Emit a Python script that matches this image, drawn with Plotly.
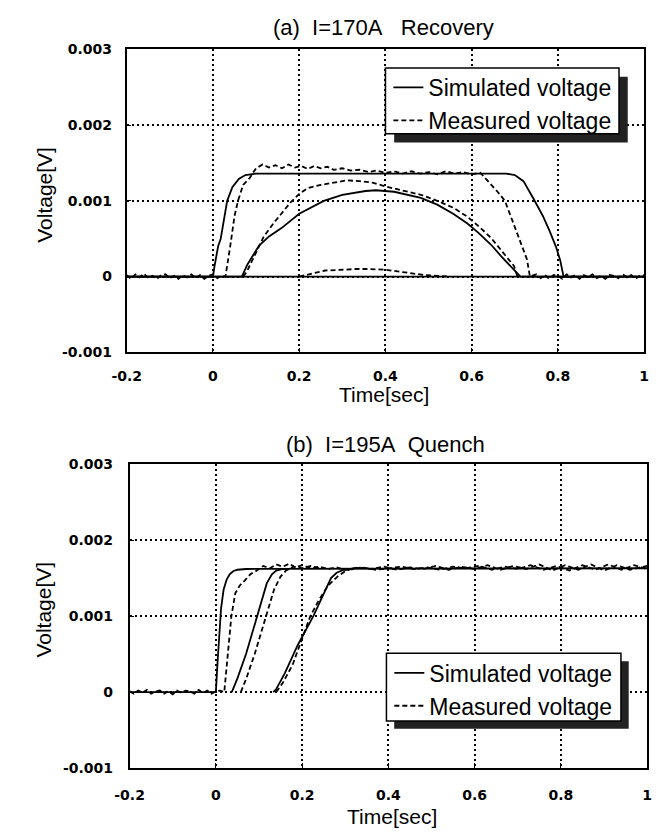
import plotly.graph_objects as go

# Page has an 8px body margin: figure is drawn 8px right/down of the viewport origin.
OX, OY = 8, 8
W, H = 648, 823

# ---------------- (a) I=170A Recovery ----------------
sim_a1_t = [-0.2, 0.0, 0.004, 0.008, 0.012, 0.018, 0.025, 0.033, 0.045, 0.06, 0.075, 0.1, 0.3, 0.5, 0.68,
            0.7, 0.72, 0.744, 0.765, 0.78, 0.795, 0.805, 0.813, 1.0]
sim_a1_v = [0, 0, 0.00015, 0.0003, 0.0004, 0.0005, 0.00075, 0.001, 0.00118, 0.00129, 0.00134, 0.00136, 0.00136,
            0.00136, 0.00136, 0.00134, 0.00126, 0.00102, 0.0008, 0.00061, 0.0004, 0.00022, 0, 0]

sim_a2_t = [-0.2, 0.067, 0.08, 0.107, 0.13, 0.159, 0.2, 0.257, 0.3, 0.354, 0.378, 0.42, 0.482, 0.52, 0.557,
            0.59, 0.617, 0.645, 0.668, 0.69, 0.713, 1.0]
sim_a2_v = [0, 0, 0.00016, 0.00041, 0.00053, 0.00064, 0.00083, 0.001, 0.00108, 0.00113, 0.00114, 0.00112,
            0.00104, 0.00095, 0.00083, 0.0007, 0.00057, 0.00042, 0.00027, 0.00014, 0, 0]

sim_a3_t = [-0.2, 1.0]
sim_a3_v = [0, 0]

meas_a1_t = [-0.2, -0.19, -0.18, -0.17, -0.16, -0.15, -0.14, -0.13, -0.12, -0.11, -0.1, -0.09, -0.08, -0.07,
             -0.06, -0.05, -0.04, -0.03, -0.02, -0.01, 0.0, 0.01, 0.02, 0.029,
             0.04, 0.05, 0.058, 0.07, 0.085, 0.1, 0.115, 0.13, 0.145, 0.16, 0.175, 0.19, 0.205, 0.22, 0.235,
             0.25, 0.265, 0.28, 0.3, 0.32, 0.34, 0.36, 0.38, 0.4, 0.42, 0.44, 0.46, 0.48, 0.5, 0.52, 0.54,
             0.56, 0.58, 0.6, 0.62, 0.638, 0.66, 0.677, 0.69, 0.706, 0.72, 0.728, 0.735,
             0.75, 0.76, 0.77, 0.78, 0.79, 0.8, 0.81, 0.82, 0.83, 0.84, 0.85, 0.86, 0.87, 0.88, 0.89, 0.9,
             0.91, 0.92, 0.93, 0.94, 0.95, 0.96, 0.97, 0.98, 0.99, 1.0]
meas_a1_v = [0.00002, -0.00003, 0.00003, -0.00001, 0.00004, -0.00002, 0.00001, -0.00003, 0.00002, 0.00003,
             -0.00002, 0.00001, -0.00003, 0.00002, -0.00001, 0.00003, -0.00002, 0.00002, -0.00003, 0.00001,
             0.00003, -0.00002, 0.00001, 0.0,
             0.0004, 0.0008, 0.001, 0.00121, 0.0013, 0.00143, 0.00148, 0.00144, 0.00147, 0.00143, 0.00148,
             0.00144, 0.00146, 0.00142, 0.00146, 0.00143, 0.00145, 0.00141, 0.00143, 0.0014, 0.00141, 0.00138,
             0.0014, 0.00137, 0.00139, 0.00136, 0.00139, 0.00136, 0.00138, 0.00135, 0.00139, 0.00136, 0.00138,
             0.00135, 0.00137, 0.00126, 0.00112, 0.001, 0.0008, 0.00057, 0.00035, 0.00023, 0.0,
             0.00003, -0.00002, 0.00002, -0.00003, 0.00002, 0.00001, -0.00003, 0.00003, -0.00001, 0.00002,
             -0.00003, 0.00002, -0.00001, 0.00003, -0.00002, 0.00001, -0.00003, 0.00002, 0.00001, -0.00002,
             0.00003, -0.00001, 0.00002, -0.00003, 0.00001, 0.00002]

meas_a2_t = [0.07, 0.078, 0.09, 0.1, 0.118, 0.14, 0.159, 0.18, 0.2, 0.22, 0.25, 0.28, 0.31, 0.34, 0.37,
             0.4, 0.44, 0.482, 0.52, 0.557, 0.59, 0.617, 0.645, 0.668, 0.685, 0.698, 0.706]
meas_a2_v = [0, 0.00006, 0.0002, 0.00032, 0.00053, 0.0007, 0.00083, 0.00098, 0.00109, 0.00117, 0.00121,
             0.00124, 0.00127, 0.00126, 0.00124, 0.00119, 0.00114, 0.00108, 0.001, 0.00091, 0.00079, 0.00066,
             0.00051, 0.00035, 0.00024, 0.00014, 0]

meas_a3_t = [0.2, 0.23, 0.26, 0.3, 0.33, 0.36, 0.4, 0.44, 0.467, 0.49, 0.52, 0.55]
meas_a3_v = [0, 0.00004, 0.00008, 0.00009, 0.0001, 0.0001, 0.00009, 0.00006, 0.00004, 0.00002, 0.00001, 0]

# ---------------- (b) I=195A Quench ----------------
sim_b1_t = [-0.2, 0.0, 0.004, 0.008, 0.012, 0.018, 0.025, 0.032, 0.04, 0.05, 0.07, 1.0]
sim_b1_v = [0, 0, 0.0004, 0.0008, 0.0011, 0.00135, 0.00148, 0.00155, 0.00159, 0.00161, 0.00162, 0.00163]

sim_b2_t = [0.037, 0.05, 0.07, 0.0955, 0.118, 0.13, 0.14, 0.155, 0.17]
sim_b2_v = [0, 0.00018, 0.0005, 0.001, 0.00143, 0.00155, 0.0016, 0.00162, 0.00162]

sim_b3_t = [0.133, 0.14, 0.16, 0.19, 0.226, 0.25, 0.267, 0.28, 0.297, 0.32]
sim_b3_v = [0, 0.00004, 0.00025, 0.00062, 0.001, 0.00128, 0.0015, 0.00157, 0.00161, 0.00162]

meas_b1_t = [-0.2, -0.19, -0.18, -0.17, -0.16, -0.15, -0.14, -0.13, -0.12, -0.11, -0.1, -0.09, -0.08, -0.07,
             -0.06, -0.05, -0.04, -0.03, -0.02, -0.01, 0.0, 0.01, 0.0195,
             0.025, 0.03, 0.036, 0.045, 0.055, 0.069, 0.08, 0.095, 0.11, 0.125, 0.14, 0.155, 0.17, 0.185,
             0.2, 0.22, 0.24, 0.26, 0.28, 0.3, 0.33, 0.36, 0.39, 0.42, 0.45, 0.48, 0.51, 0.54, 0.57, 0.6,
             0.63, 0.66, 0.69, 0.72, 0.75, 0.78, 0.81, 0.84, 0.87, 0.9, 0.93, 0.96, 1.0]
meas_b1_v = [0.00001, -0.00002, 0.00002, -0.00001, 0.00003, -0.00002, 0.00001, 0.00002, -0.00002, 0.00001,
             -0.00003, 0.00002, -0.00001, 0.00002, 0.00001, -0.00002, 0.00003, -0.00001, 0.00002, -0.00002,
             0.00001, 0.00002, 0.0,
             0.00035, 0.0007, 0.001, 0.0013, 0.0014, 0.00148, 0.00155, 0.0016, 0.00166, 0.00163, 0.00168,
             0.00165, 0.00169, 0.00164, 0.00167, 0.00163, 0.00165, 0.00162, 0.00164, 0.00161, 0.00164,
             0.00162, 0.00165, 0.00161, 0.00164, 0.00162, 0.00166, 0.00161, 0.00165, 0.00162, 0.00167,
             0.00161, 0.00166, 0.00162, 0.00168, 0.0016, 0.00167, 0.00161, 0.00168, 0.0016, 0.00167,
             0.00161, 0.00166]

meas_b2_t = [0.058, 0.07, 0.09, 0.116, 0.135, 0.15, 0.163, 0.18, 0.2, 0.22, 0.24]
meas_b2_v = [0, 0.00017, 0.0005, 0.001, 0.00135, 0.00152, 0.0016, 0.00165, 0.00163, 0.00166, 0.00163]

meas_b3_t = [0.14, 0.155, 0.178, 0.2, 0.219, 0.24, 0.26, 0.282, 0.3, 0.312, 0.34, 0.37, 0.4, 0.43, 0.46,
             0.49, 0.52, 0.55, 0.58, 0.61, 0.64, 0.67, 0.7, 0.73, 0.76, 0.79, 0.82, 0.85, 0.88, 0.91, 0.94,
             0.97, 1.0]
meas_b3_v = [0, 0.00012, 0.00036, 0.0007, 0.001, 0.00122, 0.0014, 0.00152, 0.00159, 0.00162, 0.00164,
             0.00161, 0.00163, 0.00165, 0.00162, 0.00164, 0.00161, 0.00165, 0.00163, 0.00166, 0.00161,
             0.00165, 0.00162, 0.00167, 0.00161, 0.00166, 0.0016, 0.00167, 0.00161, 0.00168, 0.00161,
             0.00167, 0.00162]

x_ticks = [-0.2, 0, 0.2, 0.4, 0.6, 0.8, 1.0]
x_tick_text = ["-0.2", "0", "0.2", "0.4", "0.6", "0.8", "1"]
y_ticks = [-0.001, 0, 0.001, 0.002, 0.003]
y_tick_text = ["-0.001", "0", "0.001", "0.002", "0.003"]

titles = ["(a)\u00a0\u00a0I=170A\u00a0\u00a0\u00a0Recovery", "(b)\u00a0\u00a0I=195A\u00a0\u00a0Quench"]
x_title = "Time[sec]"
y_title = "Voltage[V]"
leg_sim = "Simulated voltage"
leg_meas = "Measured voltage"

SOLID = dict(color="black", width=1.8)
DASH = dict(color="black", width=1.8, dash="5px,3px")

fig = go.Figure()

def add(t, v, line, xa, ya, name, show, legend):
    fig.add_trace(go.Scatter(x=t, y=v, mode="lines", line=line, xaxis=xa, yaxis=ya, name=name,
                             showlegend=show, legend=legend, hoverinfo="skip"))

# panel a
add(sim_a3_t, sim_a3_v, SOLID, "x", "y", leg_sim, False, "legend")
add(meas_a1_t, meas_a1_v, DASH, "x", "y", leg_meas, False, "legend")
add(meas_a2_t, meas_a2_v, DASH, "x", "y", leg_meas, False, "legend")
add(meas_a3_t, meas_a3_v, DASH, "x", "y", leg_meas, False, "legend")
add(sim_a1_t, sim_a1_v, SOLID, "x", "y", leg_sim, True, "legend")
add(sim_a2_t, sim_a2_v, SOLID, "x", "y", leg_sim, False, "legend")
fig.add_trace(go.Scatter(x=[None], y=[None], mode="lines", line=DASH, xaxis="x", yaxis="y",
                         name=leg_meas, showlegend=True, legend="legend"))
# panel b
add(meas_b1_t, meas_b1_v, DASH, "x2", "y2", leg_meas, False, "legend2")
add(meas_b2_t, meas_b2_v, DASH, "x2", "y2", leg_meas, False, "legend2")
add(meas_b3_t, meas_b3_v, DASH, "x2", "y2", leg_meas, False, "legend2")
add(sim_b1_t, sim_b1_v, SOLID, "x2", "y2", leg_sim, True, "legend2")
add(sim_b2_t, sim_b2_v, SOLID, "x2", "y2", leg_sim, False, "legend2")
add(sim_b3_t, sim_b3_v, SOLID, "x2", "y2", leg_sim, False, "legend2")
fig.add_trace(go.Scatter(x=[None], y=[None], mode="lines", line=DASH, xaxis="x2", yaxis="y2",
                         name=leg_meas, showlegend=True, legend="legend2"))

def px(x):
    return (x - OX) / W

def py(y):
    return 1 - (y - OY) / H

tick_font = dict(family="DejaVu Sans", size=14, color="black", weight="bold")

def xaxis(dom, anchor, standoff):
    return dict(domain=[px(dom[0]), px(dom[1])], anchor=anchor, range=[-0.2, 1.0],
                tickvals=x_ticks, ticktext=x_tick_text, tickfont=tick_font,
                showgrid=True, gridcolor="black", gridwidth=1.5, griddash="2px,3px",
                showline=True, linecolor="black", linewidth=1.6, mirror=True,
                ticks="inside", ticklen=5, tickwidth=1.3, tickcolor="black",
                ticklabelstandoff=standoff, zeroline=False, fixedrange=True)

def yaxis(dom, anchor, standoff):
    return dict(domain=[py(dom[1]), py(dom[0])], anchor=anchor, range=[-0.001, 0.003],
                tickvals=y_ticks, ticktext=y_tick_text, tickfont=tick_font,
                showgrid=True, gridcolor="black", gridwidth=1.5, griddash="2px,3px",
                showline=True, linecolor="black", linewidth=1.6, mirror=True,
                ticks="inside", ticklen=5, tickwidth=1.3, tickcolor="black",
                ticklabelstandoff=standoff, zeroline=False, fixedrange=True)

leg_font = dict(family="Liberation Sans", size=23, color="black")
title_font = dict(family="Liberation Sans", size=22, color="black")
axis_title_font = dict(family="Liberation Sans", size=21, color="black")

leg_a = dict(x=px(385), y=py(59), xanchor="left", yanchor="top", bgcolor="rgba(0,0,0,0)",
             borderwidth=0, font=leg_font, traceorder="normal")
leg_b = dict(x=px(386), y=py(656), xanchor="left", yanchor="top", bgcolor="rgba(0,0,0,0)",
             borderwidth=0, font=leg_font, traceorder="normal")

def legend_box(x0, y0, x1, y1, off=9):
    return [
        dict(type="rect", xref="paper", yref="paper", x0=px(x0 + off), x1=px(x1 + off),
             y0=py(y1 + off), y1=py(y0 + off), fillcolor="#222222", line=dict(width=0), layer="above"),
        dict(type="rect", xref="paper", yref="paper", x0=px(x0), x1=px(x1), y0=py(y1), y1=py(y0),
             fillcolor="white", line=dict(color="black", width=1.5), layer="above"),
    ]

shapes = legend_box(382, 61, 623, 128) + legend_box(383, 658, 625, 727, off=8)

annotations = [
    dict(text=titles[0], x=px(380), y=py(20), xref="paper", yref="paper", showarrow=False,
         xanchor="center", yanchor="middle", font=title_font),
    dict(text=titles[1], x=px(382), y=py(445), xref="paper", yref="paper", showarrow=False,
         xanchor="center", yanchor="middle", font=title_font),
    dict(text=x_title, x=px(381), y=py(394), xref="paper", yref="paper", showarrow=False,
         xanchor="center", yanchor="middle", font=axis_title_font),
    dict(text=x_title, x=px(389), y=py(824), xref="paper", yref="paper", showarrow=False,
         xanchor="center", yanchor="middle", font=axis_title_font),
    dict(text=y_title, x=px(30), y=py(190), xref="paper", yref="paper", showarrow=False, textangle=-90,
         xanchor="center", yanchor="middle", font=axis_title_font),
    dict(text=y_title, x=px(29), y=py(613), xref="paper", yref="paper", showarrow=False, textangle=-90,
         xanchor="center", yanchor="middle", font=axis_title_font),
]

fig.update_layout(
    width=W, height=H, margin=dict(l=0, r=0, t=0, b=0),
    paper_bgcolor="white", plot_bgcolor="white",
    xaxis=xaxis((115, 649), "y", 10),
    yaxis=yaxis((42, 351), "x", 10),
    xaxis2=xaxis((118, 652), "y2", 13),
    yaxis2=yaxis((465, 775), "x2", 12),
    legend=leg_a, legend2=leg_b,
    shapes=shapes, annotations=annotations,
    font=dict(family="Liberation Sans", color="black"),
)

fig.write_html("out.html", config={"displayModeBar": False})
